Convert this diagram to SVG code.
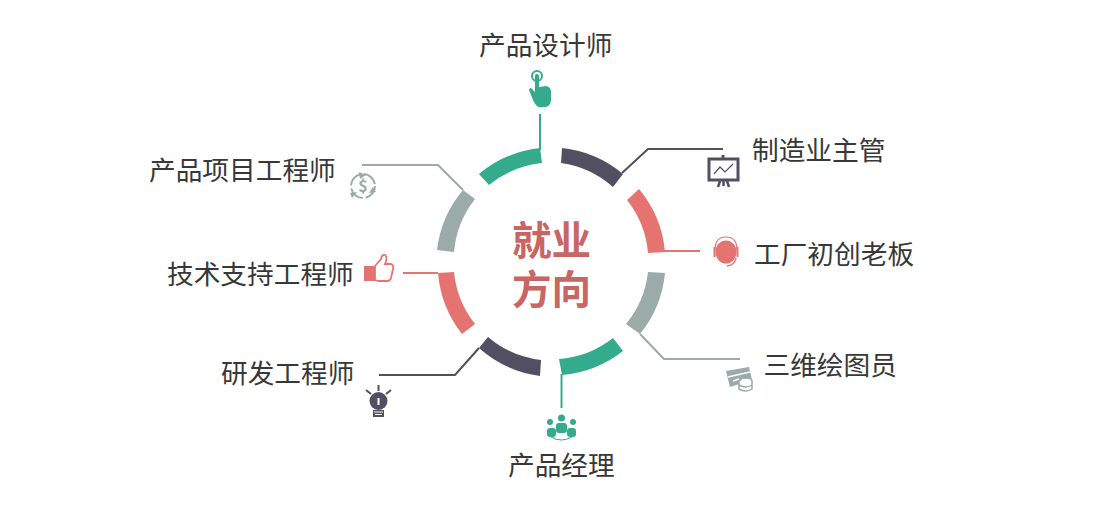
<svg xmlns="http://www.w3.org/2000/svg" width="1120" height="508" viewBox="0 0 1120 508">
<style>
text{font-family:"Noto Sans CJK SC","Noto Sans",sans-serif;font-size:26.700px;fill:#383838;font-weight:400}
.g{fill:#35ab8d}.d{fill:#534f63}.r{fill:#e57471}.s{fill:#9aaba8}
.lg,.ld,.lr,.ls{fill:none;stroke-width:2}
.lg{stroke:#35ab8d}.ld{stroke:#534f63}.lr{stroke:#e57471}.ls{stroke:#9aaba8}
text.c{font-family:"Liberation Sans","Noto Sans CJK SC",sans-serif;font-size:39.500px;font-weight:700;fill:#c96663}
</style>
<rect width="1120" height="508" fill="#fff"/>
<g id="connectors">
<path class="lg" d="M540 114V150"/>
<path class="ld" d="M622 173L648 149H723"/>
<path class="lr" d="M664 251H700"/>
<path class="ls" d="M640 334L664 359H740"/>
<path class="lg" d="M561.500 374V408"/>
<path class="ld" d="M479 348L455 375H379"/>
<path class="lr" d="M403 273H438"/>
<path class="ls" d="M362 165H438L463 190"/>
</g>
<g id="ring">
<path class="g" d="M540 148A114 114 0 0 0 479 174L489 185A99 99 0 0 1 542 163Z"/>
<path class="d" d="M562 148A114 114 0 0 1 623 174L613 187A99 99 0 0 0 561 163Z"/>
<path class="r" d="M639 189A114 114 0 0 1 665 252L648 253A99 99 0 0 0 627 200Z"/>
<path class="s" d="M665 273A114 114 0 0 1 640 334L626 324A99 99 0 0 0 648 272Z"/>
<path class="g" d="M623 351A114 114 0 0 1 562 375L559 359A99 99 0 0 0 613 338Z"/>
<path class="d" d="M479 348A114 114 0 0 0 540 376L541 360A99 99 0 0 1 488 337Z"/>
<path class="r" d="M438 273A114 114 0 0 0 462 334L475 324A99 99 0 0 1 454 272Z"/>
<path class="s" d="M463 190A114 114 0 0 0 437 250L454 252A99 99 0 0 1 475 199Z"/>
</g>
<g id="center"><text class="c" x="551.500" y="255" text-anchor="middle">就业</text><text class="c" x="551.500" y="304" text-anchor="middle">方向</text></g>
<g id="node-top"><text x="479" y="55">产品设计师</text>
<circle cx="537" cy="76" r="5" fill="none" stroke="#35ab8d" stroke-width="2"/><circle cx="537" cy="76" r="2" class="g"/>
<path class="g" d="M535 76Q537 74 539 76V87L546 86Q551 87 551 92V101Q550 107 544 107H538Q535 105 533 100L529 90Q529 88 531 88L535 92Z"/></g>
<g id="node-tr"><text x="752" y="160">制造业主管</text>
<path d="M709 159H738V180H709Z" fill="none" stroke="#534f63" stroke-width="3"/>
<path d="M723 155V159" stroke="#534f63" stroke-width="3"/>
<path d="M714 174L720 167L725 172L733 164" fill="none" stroke="#534f63" stroke-width="1.200"/>
<path d="M720 181L718 187M727 181L729 187M723.500 181V186" stroke="#534f63" stroke-width="2.500"/></g>
<g id="node-r"><text x="754" y="264">工厂初创老板</text>
<ellipse class="r" cx="726" cy="252" rx="10.500" ry="11.500"/>
<path d="M715 250Q715 237 726 237Q737 237 737 250" fill="none" stroke="#e57471" stroke-width="1.200"/>
<rect class="r" x="713.500" y="247" width="2" height="10"/><rect class="r" x="736.500" y="247" width="2" height="10"/>
<path d="M736 258Q735 265 727 266" fill="none" stroke="#e57471" stroke-width="1.500"/></g>
<g id="node-br"><text x="763.500" y="375">三维绘图员</text>
<path class="s" d="M726 371L749 367L752 380L730 387Z"/>
<path d="M728 377L750 372M733 381L739 379" stroke="#fff" stroke-width="1.500"/>
<ellipse cx="746" cy="381" rx="6" ry="3" fill="#fff" stroke="#9aaba8" stroke-width="1.500"/>
<path d="M739 381V389Q746 393 752 389V381M739 385Q746 389 752 385" fill="#fff" stroke="#9aaba8" stroke-width="1.500"/></g>
<g id="node-b"><text x="508" y="475">产品经理</text>
<circle class="g" cx="561.500" cy="418" r="3.500"/><circle class="g" cx="550" cy="422" r="3"/><circle class="g" cx="573" cy="422" r="3"/>
<rect class="g" x="556" y="423" width="11" height="10" rx="3"/><rect class="g" x="547" y="428" width="9" height="9" rx="3"/><rect class="g" x="567" y="428" width="9" height="9" rx="3"/>
<path d="M551 437Q561 443 572 437" fill="none" stroke="#35ab8d" stroke-width="1"/></g>
<g id="node-bl"><text x="221" y="383">研发工程师</text>
<circle class="d" cx="378.500" cy="401" r="9"/>
<rect x="377.500" y="398" width="2" height="7" fill="#fff"/>
<rect class="d" x="373" y="410" width="11" height="7"/>
<path d="M374 412H383M375 414.500H382" stroke="#fff" stroke-width="1"/>
<path d="M378.500 385V391M366 390L371 394M391 390L386 394" stroke="#534f63" stroke-width="2"/></g>
<g id="node-l"><text x="167" y="284">技术支持工程师</text>
<rect class="r" x="364" y="266" width="11" height="15"/>
<path d="M375 266L381 259Q382 254 385 255Q388 257 385 264H391Q394 265 393 269L391 278Q390 281 387 281H379L375 280Z" fill="#fff" stroke="#e57471" stroke-width="1.800"/></g>
<g id="node-tl"><text x="149" y="180">产品项目工程师</text>
<circle cx="363" cy="186" r="12" fill="none" stroke="#9aaba8" stroke-width="2" stroke-dasharray="16 3"/>
<path class="s" d="M359 172L366 175L360 179ZM350 193L357 192L352 198ZM376 192L369 193L373 187Z"/>
<text x="363" y="192" text-anchor="middle" style="font-size:16px;fill:#9aaba8;font-weight:700">$</text></g>
</svg>
